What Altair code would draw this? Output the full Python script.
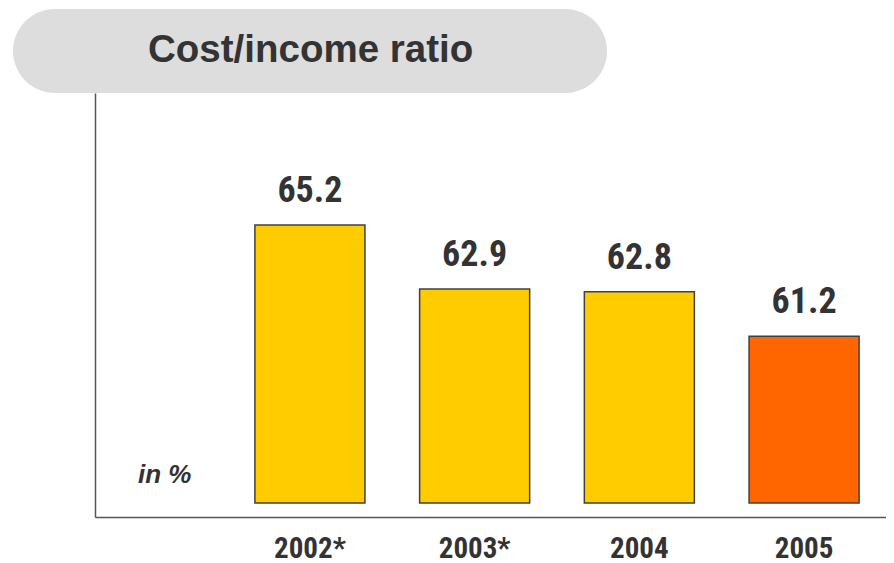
import altair as alt
import pandas as pd

years = ["2002*", "2003*", "2004", "2005"]
ratios = [65.2, 62.9, 62.8, 61.2]
bar_colors = ["#FFCC00", "#FFCC00", "#FFCC00", "#FF6600"]
base_value = 55.2
title_text = "Cost/income ratio"
unit_text = "in %"

df = pd.DataFrame({"year": years, "ratio": ratios})
df["base"] = base_value

NARROW = "Liberation Sans Narrow, Arial Narrow, Roboto Condensed, sans-serif"
SANS = "Liberation Sans, Arial, sans-serif"
TXT = "#333333"

x = alt.X(
    "year:N",
    sort=years,
    scale=alt.Scale(paddingInner=0.332, paddingOuter=0.567, align=0.856, round=False),
    axis=alt.Axis(
        title=None, labelAngle=0, ticks=False, grid=False,
        domainColor="#555555", domainWidth=1.5,
        labelFont=NARROW, labelFontSize=29, labelFontWeight="bold",
        labelColor=TXT, labelPadding=17, labelBaseline="top",
    ),
)
y = alt.Y(
    "ratio:Q",
    scale=alt.Scale(domain=[54.7, 69.95], zero=False, nice=False),
    axis=alt.Axis(
        title=None, labels=False, ticks=False, grid=False,
        domainColor="#555555", domainWidth=1.5,
    ),
)

bars = alt.Chart(df).mark_bar(stroke="#404040", strokeWidth=1.5).encode(
    x=x,
    y=y,
    y2="base:Q",
    color=alt.Color("year:N", scale=alt.Scale(domain=years, range=bar_colors), legend=None),
)

labels = alt.Chart(df).mark_text(
    font=NARROW, fontSize=36, fontWeight="bold", color=TXT,
    baseline="alphabetic", dy=-23,
).encode(
    x=alt.X("year:N", sort=years),
    y="ratio:Q",
    text=alt.Text("ratio:Q", format=".1f"),
)

one = alt.Data(values=[{"k": 1}])

box = alt.Chart(one).mark_rect(color="#DDDDDD", cornerRadius=42).encode(
    x=alt.value(-82), x2=alt.value(512), y=alt.value(-84), y2=alt.value(0)
)

title = alt.Chart(one).mark_text(
    text=title_text, font=SANS, fontSize=38.5, fontWeight="bold", color=TXT,
    align="left", baseline="alphabetic",
).encode(x=alt.value(53), y=alt.value(-31))

unit = alt.Chart(one).mark_text(
    text=unit_text, font=SANS, fontSize=26, fontWeight="bold", fontStyle="italic",
    color=TXT, align="left", baseline="alphabetic",
).encode(x=alt.value(43), y=alt.value(390))

chart = alt.layer(box, title, unit, bars, labels).properties(
    width=791,
    height=424,
    padding={"left": 87, "top": 85, "right": 0, "bottom": 46},
    autosize=alt.AutoSizeParams(type="none"),
).configure_view(
    strokeWidth=0, stroke="transparent", strokeOpacity=0
).configure(
    background="white",
    style={"cell": {"stroke": "transparent", "strokeWidth": 0, "strokeOpacity": 0}},
)

chart.save("out.html", embed_options={"renderer": "svg", "actions": False})
